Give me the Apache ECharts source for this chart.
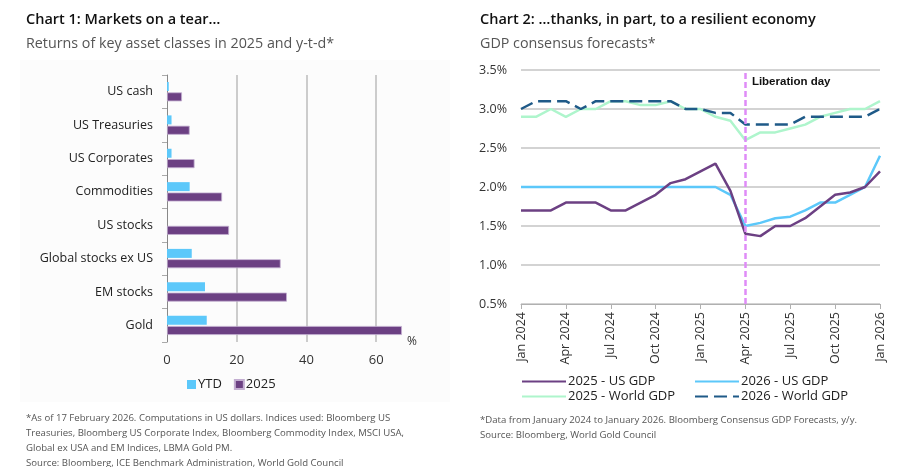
<!DOCTYPE html>
<html>
<head>
<meta charset="utf-8">
<script src="https://cdn.jsdelivr.net/npm/echarts@6.0.0/dist/echarts.min.js"></script>
<style>
html,body{margin:0;padding:0;background:#fff;}
#c{width:906px;height:467px;}
</style>
</head>
<body>
<div id="c"></div>
<script>
// ---- Chart 1 data ----
const assetCategories = ['US cash','US Treasuries','US Corporates','Commodities','US stocks','Global stocks ex US','EM stocks','Gold'];
const ytdValues  = [0.5, 1.3, 1.3, 6.5, 0.0, 7.1, 10.9, 11.4];
const y2025Values = [4.3, 6.5, 7.9, 15.8, 17.8, 32.6, 34.4, 67.4];
const barTicks = [0, 20, 40, 60];

// ---- Chart 2 data ----
const months = ['Jan 2024','Feb 2024','Mar 2024','Apr 2024','May 2024','Jun 2024','Jul 2024','Aug 2024','Sep 2024','Oct 2024','Nov 2024','Dec 2024',
  'Jan 2025','Feb 2025','Mar 2025','Apr 2025','May 2025','Jun 2025','Jul 2025','Aug 2025','Sep 2025','Oct 2025','Nov 2025','Dec 2025','Jan 2026'];
const us2025    = [1.7,1.7,1.7,1.8,1.8,1.8,1.7,1.7,1.8,1.9,2.05,2.1,2.2,2.3,1.95,1.4,1.37,1.5,1.5,1.6,1.75,1.9,1.93,2.0,2.2];
const us2026    = [2.0,2.0,2.0,2.0,2.0,2.0,2.0,2.0,2.0,2.0,2.0,2.0,2.0,2.0,1.9,1.5,1.54,1.6,1.62,1.7,1.8,1.8,1.9,2.0,2.4];
const world2025 = [2.9,2.9,3.0,2.9,3.0,3.0,3.1,3.1,3.05,3.05,3.1,3.0,3.0,2.9,2.85,2.6,2.7,2.7,2.75,2.8,2.9,2.95,3.0,3.0,3.1];
const world2026 = [3.0,3.1,3.1,3.1,3.0,3.1,3.1,3.1,3.1,3.1,3.1,3.0,3.0,2.95,2.95,2.8,2.8,2.8,2.8,2.9,2.9,2.9,2.9,2.9,3.0];
const liberationDay = 'Apr 2025';

const FONT = 'Open Sans';
const chart = echarts.init(document.getElementById('c'), null, {renderer:'canvas'});

const option = {
  backgroundColor: '#ffffff',
  textStyle: {fontFamily: FONT},
  animation: false,
  graphic: [
    {type:'rect', left:20, top:60, z:-10, silent:true, shape:{width:430, height:342}, style:{fill:'#fcfcfc'}}
  ],
  title: [
    {text:'Chart 1: Markets on a tear…', left:21, top:7, textStyle:{fontFamily:FONT, fontSize:14.5, fontWeight:'600', color:'#111'}},
    {text:'Returns of key asset classes in 2025 and y-t-d*', left:21, top:32, textStyle:{fontFamily:FONT, fontSize:14.3, fontWeight:'normal', color:'#555'}},
    {text:'Chart 2: …thanks, in part, to a resilient economy', left:475, top:7, textStyle:{fontFamily:FONT, fontSize:14.5, fontWeight:'600', color:'#111'}},
    {text:'GDP consensus forecasts*', left:475, top:32, textStyle:{fontFamily:FONT, fontSize:14.3, fontWeight:'normal', color:'#555'}},
    {text:'*As of 17 February 2026. Computations in US dollars. Indices used: Bloomberg US\nTreasuries, Bloomberg US Corporate Index, Bloomberg Commodity Index, MSCI USA,\nGlobal ex USA and EM Indices, LBMA Gold PM.\nSource: Bloomberg, ICE Benchmark Administration, World Gold Council',
      left:21, top:406, textStyle:{fontFamily:FONT, fontSize:9.6, fontWeight:'normal', color:'#555', lineHeight:15}},
    {text:'*Data from January 2024 to January 2026. Bloomberg Consensus GDP Forecasts, y/y.\nSource: Bloomberg, World Gold Council',
      left:475, top:408, textStyle:{fontFamily:FONT, fontSize:9.6, fontWeight:'normal', color:'#555', lineHeight:15}}
  ],
  legend: [
    {data:['YTD','2025'], left:182, top:373, itemWidth:9, itemHeight:9, itemGap:12, icon:'rect',
      textStyle:{fontFamily:FONT, fontSize:13, color:'#222', padding:[0,0,0,-3]}},
    {data:['2025 - US GDP','2025 - World GDP'], orient:'vertical', left:516, top:370, itemWidth:44, itemHeight:12, itemGap:2,
      itemStyle:{opacity:0},
      textStyle:{fontFamily:FONT, fontSize:13, color:'#222', padding:[0,0,0,-3]}},
    {data:['2026 - US GDP','2026 - World GDP'], orient:'vertical', left:689, top:370, itemWidth:44, itemHeight:12, itemGap:2,
      itemStyle:{opacity:0},
      textStyle:{fontFamily:FONT, fontSize:13, color:'#222', padding:[0,0,0,-3]}}
  ],
  grid: [
    {left:167, top:75, width:244, height:267},
    {left:521, top:70, width:359, height:234}
  ],
  xAxis: [
    {gridIndex:0, type:'value', min:0, max:70, interval:20,
      name:'%', nameLocation:'end', nameGap:-4, nameTextStyle:{fontFamily:FONT, fontSize:12, color:'#333', padding:[0,0,14,0]},
      axisLine:{show:false}, axisTick:{show:false},
      axisLabel:{showMaxLabel:false, fontFamily:FONT, fontSize:13, color:'#333', margin:12,
        formatter:(v)=> barTicks.includes(v) ? String(v) : ''},
      splitLine:{show:true, showMinLine:false, showMaxLine:false, lineStyle:{color:'#bdbdbd', width:1.5}}},
    {gridIndex:1, type:'category', data:months, boundaryGap:false,
      axisLine:{show:true, lineStyle:{color:'#b0b0b0', width:1}},
      axisTick:{show:true, interval:2, length:5, lineStyle:{color:'#b0b0b0'}},
      axisLabel:{interval:2, rotate:90, fontFamily:FONT, fontSize:12.5, color:'#333', margin:8},
      splitLine:{show:false}}
  ],
  yAxis: [
    {gridIndex:0, type:'category', data:assetCategories, inverse:true,
      axisLine:{show:true, lineStyle:{color:'#888', width:1}},
      axisTick:{show:true, length:5, lineStyle:{color:'#aaa'}},
      axisLabel:{fontFamily:FONT, fontSize:12.5, color:'#222', margin:14}},
    {gridIndex:1, type:'value', min:0.5, max:3.5, interval:0.5,
      axisLine:{show:false}, axisTick:{show:false},
      axisLabel:{fontFamily:FONT, fontSize:12.5, color:'#333', margin:14, formatter:(v)=> v.toFixed(1)+'%'},
      splitLine:{show:true, lineStyle:{color:'#c4c4c4', width:1.5}}}
  ],
  series: [
    {name:'YTD', type:'bar', xAxisIndex:0, yAxisIndex:0, data:ytdValues, barWidth:9, barGap:'15%',
      itemStyle:{color:'#5cc8fa'}},
    {name:'2025', type:'bar', xAxisIndex:0, yAxisIndex:0, data:y2025Values, barWidth:9, barGap:'15%',
      itemStyle:{color:'#6c4083', borderColor:'#c3aed1', borderWidth:0.8}},
    {name:'2025 - World GDP', type:'line', xAxisIndex:1, yAxisIndex:1, data:world2025, symbol:'none',
      lineStyle:{color:'#aef5cc', width:2.5}, itemStyle:{color:'#aef5cc'}},
    {name:'2026 - World GDP', type:'line', xAxisIndex:1, yAxisIndex:1, data:world2026, symbol:'none',
      lineStyle:{color:'#1f5a88', width:2.5, type:[13,6]}, itemStyle:{color:'#1f5a88'}},
    {name:'2026 - US GDP', type:'line', xAxisIndex:1, yAxisIndex:1, data:us2026, symbol:'none',
      lineStyle:{color:'#5cc8fa', width:2.5}, itemStyle:{color:'#5cc8fa'}},
    {name:'2025 - US GDP', type:'line', xAxisIndex:1, yAxisIndex:1, data:us2025, symbol:'none',
      lineStyle:{color:'#6c4083', width:2.5}, itemStyle:{color:'#6c4083'},
      markLine:{silent:true, symbol:'none', label:{show:false},
        lineStyle:{color:'#df8cf7', width:2.5, type:[6,3]},
        data:[{xAxis:liberationDay}]},
      markPoint:{silent:true, symbol:'circle', symbolSize:1, itemStyle:{color:'rgba(0,0,0,0)'},
        label:{show:true, position:'right', distance:4, offset:[2,12], formatter:'Liberation day',
          fontFamily:'Liberation Sans', fontWeight:'bold', fontSize:11.5, color:'#111'},
        data:[{coord:[liberationDay, 3.5]}]}}
  ]
};
chart.setOption(option);
</script>
</body>
</html>
